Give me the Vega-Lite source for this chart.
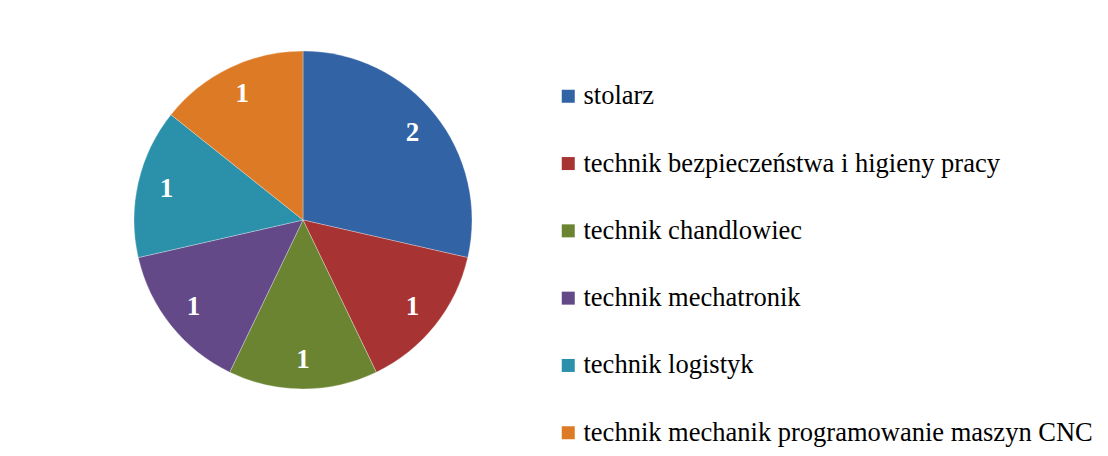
{
  "$schema": "https://vega.github.io/schema/vega-lite/v6.json",
  "width": 606,
  "height": 440,
  "autosize": {"type": "none"},
  "padding": {"left": 0, "top": 0, "right": 502, "bottom": 16},
  "background": "white",
  "config": {"view": {"stroke": null}},
  "data": {
    "values": [
      {"idx": 1, "zawod": "stolarz", "liczba": 2},
      {"idx": 2, "zawod": "technik bezpieczeństwa  i higieny pracy", "liczba": 1},
      {"idx": 3, "zawod": "technik chandlowiec", "liczba": 1},
      {"idx": 4, "zawod": "technik mechatronik", "liczba": 1},
      {"idx": 5, "zawod": "technik logistyk", "liczba": 1},
      {"idx": 6, "zawod": "technik mechanik programowanie maszyn CNC", "liczba": 1}
    ]
  },
  "encoding": {
    "theta": {"field": "liczba", "type": "quantitative", "stack": true},
    "order": {"field": "idx", "type": "quantitative"}
  },
  "layer": [
    {
      "mark": {"type": "arc", "outerRadius": 169, "stroke": "#ffffff", "strokeWidth": 0.6, "strokeOpacity": 0.5},
      "encoding": {
        "color": {
          "field": "zawod",
          "type": "nominal",
          "sort": null,
          "scale": {
            "domain": ["stolarz", "technik bezpieczeństwa  i higieny pracy", "technik chandlowiec", "technik mechatronik", "technik logistyk", "technik mechanik programowanie maszyn CNC"],
            "range": ["#3163A5", "#A73332", "#6A8431", "#634987", "#2B90AA", "#DD7A25"]
          },
          "legend": {
            "title": null,
            "orient": "none",
            "legendX": 555,
            "legendY": 83,
            "padding": 0,
            "symbolType": "square",
            "symbolSize": 169,
            "symbolStrokeWidth": 0,
            "labelFont": "Liberation Serif",
            "labelFontSize": 26.5,
            "labelColor": "#000000",
            "labelLimit": 700,
            "labelOffset": 2,
            "rowPadding": 40.3
          }
        }
      }
    },
    {
      "mark": {"type": "text", "radius": 140, "font": "Liberation Serif", "fontWeight": "bold", "fontSize": 27, "align": "center", "baseline": "middle", "fill": "#ffffff"},
      "encoding": {
        "text": {"field": "liczba", "type": "quantitative"},
        "detail": {"field": "zawod", "type": "nominal"}
      }
    }
  ]
}
